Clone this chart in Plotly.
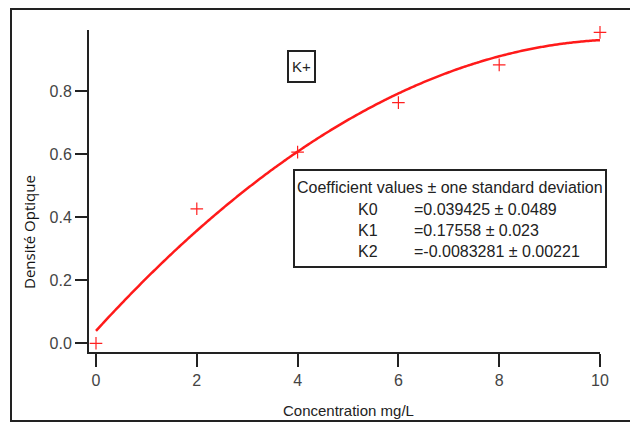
import numpy as np
import plotly.graph_objects as go

# Data
conc = [0, 2, 4, 6, 8, 10]
od = [0.0, 0.427, 0.607, 0.764, 0.884, 0.987]
coef_names = ["K0", "K1", "K2"]
coef_values = [0.039425, 0.17558, -0.0083281]
coef_text = ["=0.039425 ± 0.0489", "=0.17558 ± 0.023", "=-0.0083281 ± 0.00221"]
xticks = [0, 2, 4, 6, 8, 10]
yticks = [0.0, 0.2, 0.4, 0.6, 0.8]

# fitted polynomial from the displayed coefficients
xf = np.linspace(0, 10, 201)
yf = coef_values[0] + coef_values[1] * xf + coef_values[2] * xf ** 2

W, H = 630, 424
L, R, T, B = 89, 600, 30, 352


def px(x):
    return (x - L) / (R - L)


def py(y):
    return (B - y) / (B - T)


SANS = "Liberation Sans, Arial, sans-serif"

fig = go.Figure()
fig.add_trace(go.Scatter(x=xf, y=yf, mode="lines", cliponaxis=False,
                         line=dict(color="#ff1a1a", width=2.5, shape="spline"), hoverinfo="skip"))
fig.add_trace(go.Scatter(x=conc, y=od, mode="markers", cliponaxis=False,
                         marker=dict(symbol="cross-thin", size=9,
                                     line=dict(color="#ff2020", width=1.2))))

shapes = []
# outer frame
shapes.append(dict(type="rect", xref="paper", yref="paper",
                   x0=px(11), x1=px(634), y0=py(421), y1=py(9),
                   line=dict(color="#222", width=2)))
# K+ box
shapes.append(dict(type="rect", xref="paper", yref="paper",
                   x0=px(288), x1=px(315), y0=py(82), y1=py(51),
                   line=dict(color="#222", width=2)))
# coefficient box
shapes.append(dict(type="rect", xref="paper", yref="paper",
                   x0=px(294), x1=px(606), y0=py(267), y1=py(170),
                   line=dict(color="#222", width=2)))

ann = []
ann.append(dict(text="K+", xref="paper", yref="paper", x=px(301.5), y=py(66.5),
                showarrow=False, font=dict(family=SANS, size=15, color="#222"),
                xanchor="center", yanchor="middle"))
ann.append(dict(text="Coefficient values ± one standard deviation", xref="paper", yref="paper",
                x=px(450), y=py(187), showarrow=False,
                font=dict(family=SANS, size=16, color="#222"),
                xanchor="center", yanchor="middle"))
rows_y = [209, 230, 251]
for name, txt, yy in zip(coef_names, coef_text, rows_y):
    ann.append(dict(text=name, xref="paper", yref="paper", x=px(356), y=py(yy),
                    showarrow=False, font=dict(family=SANS, size=16, color="#222"),
                    xanchor="left", yanchor="middle"))
    ann.append(dict(text=txt, xref="paper", yref="paper", x=px(412), y=py(yy),
                    showarrow=False, font=dict(family=SANS, size=16, color="#222"),
                    xanchor="left", yanchor="middle"))
ann.append(dict(text="Densité Optique", xref="paper", yref="paper", x=px(29), y=py(232),
                showarrow=False, textangle=-90,
                font=dict(family="Open Sans, DejaVu Sans, sans-serif", size=15, color="#111"),
                xanchor="center", yanchor="middle"))
ann.append(dict(text="Concentration mg/L", xref="paper", yref="paper", x=px(348), y=py(410),
                showarrow=False, font=dict(family=SANS, size=15, color="#222"),
                xanchor="center", yanchor="middle"))

x0 = -(96 - L) / 50.4
x1 = (R - 96) / 50.4
y0 = -(B - 343.3) / 315
y1 = (343.3 - T) / 315

fig.update_layout(
    width=W, height=H, margin=dict(l=L, r=W - R, t=T, b=H - B),
    paper_bgcolor="white", plot_bgcolor="white", showlegend=False,
    shapes=shapes, annotations=ann,
    xaxis=dict(range=[x0, x1], tickvals=xticks, ticktext=[str(v) for v in xticks],
               showgrid=False, zeroline=False, showline=True, linecolor="#222", linewidth=2,
               ticks="outside", ticklen=13, tickwidth=2, tickcolor="#222",
               tickfont=dict(family=SANS, size=16, color="#444")),
    yaxis=dict(range=[y0, y1], tickvals=yticks, ticktext=[f"{v:.1f}" for v in yticks],
               showgrid=False, zeroline=False, showline=True, linecolor="#222", linewidth=2,
               ticks="outside", ticklen=12, tickwidth=2, tickcolor="#222",
               tickfont=dict(family=SANS, size=16, color="#444")),
)

fig.write_html("out.html", config={"displayModeBar": False},
               post_script="document.body.style.margin='0';")
